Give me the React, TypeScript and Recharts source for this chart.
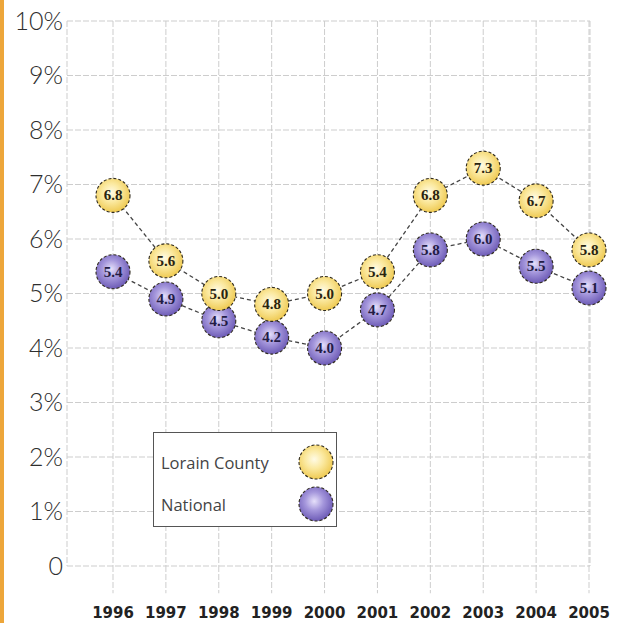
import React from 'react';
import { LineChart, Line, XAxis, YAxis, CartesianGrid, Legend, ReferenceLine } from 'recharts';

// Unemployment rate, Lorain County vs. national, 1996–2005
const years = ['1996', '1997', '1998', '1999', '2000', '2001', '2002', '2003', '2004', '2005'];
const lorainCounty = [6.8, 5.6, 5.0, 4.8, 5.0, 5.4, 6.8, 7.3, 6.7, 5.8];
const national = [5.4, 4.9, 4.5, 4.2, 4.0, 4.7, 5.8, 6.0, 5.5, 5.1];
const yTicks = [0, 1, 2, 3, 4, 5, 6, 7, 8, 9, 10];
// how far the year rules run below the zero line, in percentage points
const ruleOverhang = -0.5;

const data = years.map((year, i) => ({
  year,
  lorain: lorainCounty[i],
  national: national[i],
}));

const W = 624;
const H = 623;
const GRID = '#cdcdcd';

const GradientDefs = ({ prefix }: { prefix: string }) => (
  <defs>
    <radialGradient id={`${prefix}-gold`} cx="45%" cy="42%" r="60%">
      <stop offset="0%" stopColor="#fffbe6" />
      <stop offset="45%" stopColor="#fbe9a0" />
      <stop offset="100%" stopColor="#eec84e" />
    </radialGradient>
    <radialGradient id={`${prefix}-violet`} cx="45%" cy="42%" r="60%">
      <stop offset="0%" stopColor="#e6e0fa" />
      <stop offset="45%" stopColor="#a597dc" />
      <stop offset="100%" stopColor="#6a58b4" />
    </radialGradient>
  </defs>
);

const makeDot = (fillId: string, textColor: string) => (props: any) => {
  const { cx, cy, value, index } = props;
  if (cx == null || cy == null) return <g key={`d-${fillId}-${index}`} />;
  return (
    <g key={`d-${fillId}-${index}`}>
      <circle
        cx={cx}
        cy={cy}
        r={17}
        fill={`url(#${fillId})`}
        stroke="#2f2a1e"
        strokeWidth={1.1}
        strokeDasharray="3 2"
      />
      <text
        x={cx}
        y={cy + 5}
        textAnchor="middle"
        fontFamily="'Liberation Serif', 'DejaVu Serif', serif"
        fontWeight={700}
        fontSize={15}
        fill={textColor}
      >
        {Number(value).toFixed(1)}
      </text>
    </g>
  );
};

const yTickFormat = (v: number) => (v === 0 ? '0' : `${v}%`);

const LegendBox = () => {
  const row = (label: string, fillId: string) => (
    <div style={{ display: 'flex', alignItems: 'center', height: 42 }}>
      <span
        style={{
          fontFamily: "'Open Sans', Lato, sans-serif",
          fontSize: 16.5,
          color: '#444',
          width: 138,
          paddingLeft: 7,
          whiteSpace: 'nowrap',
        }}
      >
        {label}
      </span>
      <svg width={40} height={40}>
        <circle cx={19} cy={20} r={17} fill={`url(#${fillId})`} stroke="#2f2a1e" strokeWidth={1.1} strokeDasharray="3 2" />
      </svg>
    </div>
  );
  return (
    <div
      style={{
        width: 184,
        height: 95,
        boxSizing: 'border-box',
        border: '1.5px solid #555',
        background: '#fff',
        paddingTop: 8,
      }}
    >
      <svg width={0} height={0} style={{ position: 'absolute' }}>
        <GradientDefs prefix="lg" />
      </svg>
      {row('Lorain County', 'lg-gold')}
      {row('National', 'lg-violet')}
    </div>
  );
};

export default function App() {
  return (
    <div style={{ position: 'absolute', left: 0, top: 0, width: W, height: H, background: '#fff' }}>
      <div style={{ position: 'absolute', left: 0, top: 0, width: 4, height: H, background: '#eda63a' }} />
      <LineChart
        width={W}
        height={H}
        data={data}
        margin={{ top: 21, right: 34, bottom: 0, left: 0 }}
      >
        <GradientDefs prefix="pt" />
        <CartesianGrid stroke={GRID} strokeDasharray="6 2" />
        <XAxis
          dataKey="year"
          axisLine={false}
          tickLine={false}
          tickSize={0}
          tickMargin={41}
          height={57}
          padding={{ left: 46, right: 1 }}
          interval={0}
          tick={{
            fontFamily: "'DejaVu Sans', sans-serif",
            fontWeight: 700,
            fontSize: 15,
            fill: '#222',
          }}
        />
        <YAxis
          type="number"
          domain={[0, 10]}
          ticks={yTicks}
          interval={0}
          axisLine={false}
          tickLine={false}
          tickSize={0}
          tickMargin={4}
          width={67}
          tickFormatter={yTickFormat}
          tick={{
            fontFamily: "Lato, 'Open Sans', sans-serif",
            fontWeight: 300,
            fontSize: 25,
            fill: '#2e2e2e',
          }}
        />
        {years.map((yr) => (
          <ReferenceLine
            key={`rule-${yr}`}
            segment={[
              { x: yr, y: 0 },
              { x: yr, y: ruleOverhang },
            ]}
            ifOverflow="visible"
            stroke={GRID}
            strokeDasharray="6 2"
          />
        ))}
        <Legend
          layout="vertical"
          align="center"
          verticalAlign="middle"
          content={<LegendBox />}
          wrapperStyle={{ left: 153, top: 432, width: 184, height: 95 }}
        />
        <Line
          dataKey="national"
          name="National"
          stroke="#444"
          strokeWidth={1.3}
          strokeDasharray="4 3"
          isAnimationActive={false}
          dot={makeDot('pt-violet', '#231c45')}
          activeDot={false}
        />
        <Line
          dataKey="lorain"
          name="Lorain County"
          stroke="#444"
          strokeWidth={1.3}
          strokeDasharray="4 3"
          isAnimationActive={false}
          dot={makeDot('pt-gold', '#2a2410')}
          activeDot={false}
        />
      </LineChart>
    </div>
  );
}
